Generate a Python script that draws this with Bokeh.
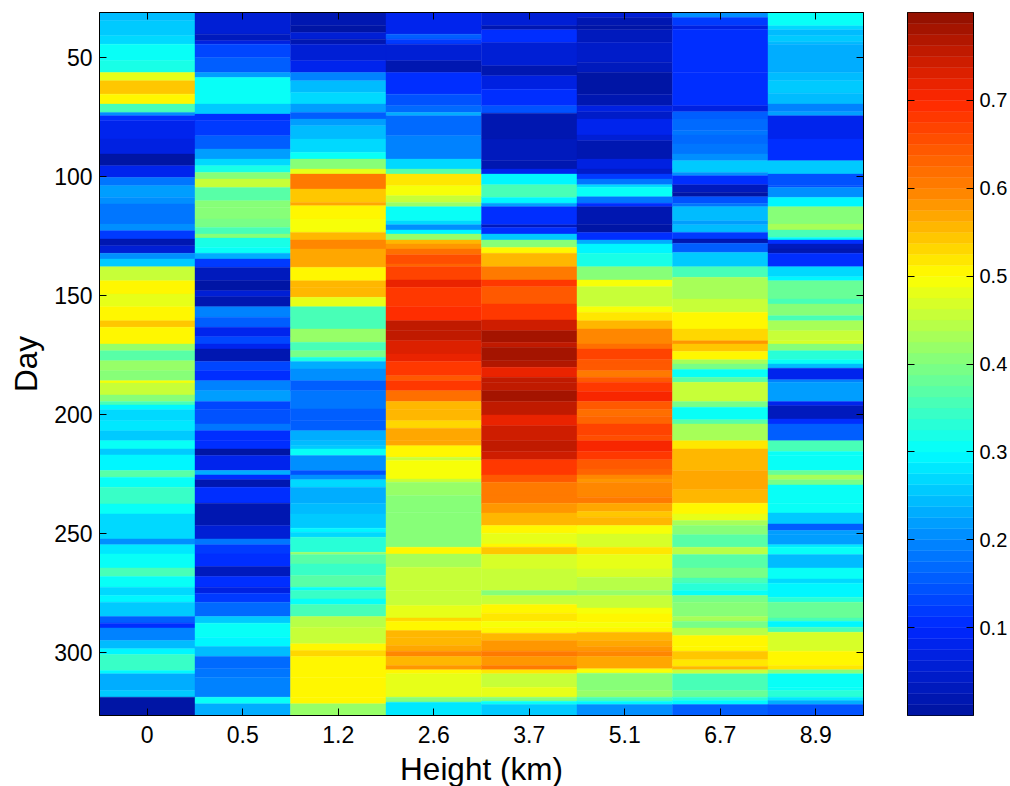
#Heatmap of value by height and day, with a jet colorbar next to it
import numpy as np
from bokeh.embed import file_html
from bokeh.layouts import row
from bokeh.models import CategoricalAxis, ColumnDataSource, FactorRange, FixedTicker, LinearAxis, LinearColorMapper, Range1d
from bokeh.plotting import figure
from bokeh.resources import INLINE
from bokeh.transform import transform

heights = ["0", "0.5", "1.2", "2.6", "3.7", "5.1", "6.7", "8.9"]
day_ticks = [50, 100, 150, 200, 250, 300]
bar_ticks = [0.1, 0.2, 0.3, 0.4, 0.5, 0.6, 0.7]
first_day = 31
last_day = 326.4
low_val = 0
high_val = 0.8

#each column is a run of bands: day where a band ends, and the value of that band
ends_0 = [34.5,40.8,44.3,51.3,56.2,59.7,65.3,69.5,73,74.4,76.5,84.2,90.5,95.4,100.3,103.8,108.7,111.5,119.9,122.7,126.2,129,132.2,134.6,137.8,143.7,149.3,154.6,160.5,163.3,170.3,173.1,177.3,181.5,185.7,186.7,191.7,194.5,195.9,197.9,202.5,206.7,210.9,214.4,216.9,223.5,226.3,230.5,237.5,241.7,252.2,254.6,258.5,264.4,268,272.5,276,278.8,284.8,287.6,289.6,294.9,298.4,300.8,307.5,308.9,315.9,318.7,326.4]
vals_0 = [.24,.25,.27,.30,.32,.48,.54,.50,.35,.2,.11,.085,.065,.01,.085,.18,.22,.2,.18,.2,.12,.02,.05,.2,.26,.46,.5,.48,.51,.54,.5,.42,.37,.42,.40,.49,.45,.40,.35,.29,.27,.28,.26,.30,.26,.295,.37,.30,.34,.30,.27,.21,.28,.31,.36,.30,.27,.29,.26,.16,.11,.19,.24,.29,.34,.29,.23,.26,.01]

ends_1 = [40.1,42.9,44.3,49.9,56.2,58.3,69.5,73.7,76.5,82.8,88.4,92.6,95.4,98.2,101,104.5,110.1,112.9,117.8,121.3,124.1,125.8,129.7,132.2,134.6,138.1,143.7,147.9,150.4,154.6,159.1,163.3,167.2,170.3,172.4,177.7,181.5,185.7,189.9,194.5,197.9,203.9,206.7,210.9,214.4,217.2,223.5,225.3,227.3,230.5,237.2,246.6,252.2,254.6,258.5,263.8,268,272.5,275,278.8,284.8,287.6,293.5,297.4,301.6,306.8,310.3,318.7,321.5,326.4]
vals_1 = [.05,.035,.065,.125,.16,.22,.3,.25,.1,.12,.16,.22,.27,.32,.41,.46,.37,.41,.40,.39,.36,.40,.32,.3,.23,.12,.035,.01,.05,.015,.19,.16,.085,.125,.085,.02,.13,.11,.19,.22,.13,.14,.18,.11,.1,.01,.075,.23,.1,.02,.1,.015,.05,.18,.12,.11,.03,.1,.065,.12,.17,.26,.3,.29,.24,.17,.18,.19,.3,.23]

ends_2 = [36.6,39.4,42.2,44.3,51.3,56.2,59.7,64.6,69.5,73,75.8,78.6,84.2,89.8,92.6,96.8,98.9,105.2,110.8,112.2,117.8,123.4,126.6,130.4,138.1,143.7,146.5,150.7,154.6,164,169.6,173.1,175.9,177.7,180.8,185.7,189.9,197.6,202.5,206.7,210.9,213,214.4,217.2,223.5,225.3,227.3,230.5,237.2,241.7,247.7,249.4,251.5,257.8,258.8,262.7,267.6,272.5,273.9,277.4,279.8,284.8,289.3,296.3,299.1,301.6,310.3,318.7,321.5,326.4]
vals_2 = [.02,.01,.05,.015,.05,.085,.19,.24,.27,.22,.16,.22,.24,.27,.3,.4,.48,.61,.54,.57,.51,.49,.55,.59,.57,.51,.56,.55,.48,.35,.42,.36,.39,.32,.23,.2,.16,.18,.15,.16,.23,.24,.26,.3,.21,.14,.21,.27,.23,.24,.26,.29,.27,.33,.42,.37,.34,.37,.31,.34,.3,.35,.44,.46,.5,.53,.5,.505,.51,.42]

ends_3 = [40.1,42.2,44.3,51.3,56.2,65.3,70.2,73,74.4,82.8,92.6,96.8,98.9,103.8,108,110.8,112.6,118.5,120.2,122.4,124.1,126.6,128.3,130.4,132.8,136.7,137.8,143.4,146.5,154.6,160.5,164.7,168.9,174.5,177.7,183.6,185.7,189.9,194.5,197.9,202.5,205.7,210.9,213,217.9,219.3,227,228.4,234,241,255.7,258.5,264.1,273.9,280.2,285.4,286.8,290.7,293.5,297,299.4,301.6,305.4,307.2,308.9,318.7,320.8,326.4]
vals_3 = [.085,.16,.12,.05,.02,.11,.14,.17,.23,.17,.19,.27,.37,.515,.49,.45,.42,.3,.27,.21,.29,.42,.55,.58,.62,.66,.63,.67,.72,.68,.69,.76,.75,.73,.72,.68,.64,.68,.62,.55,.56,.53,.57,.57,.5,.46,.49,.45,.42,.41,.40,.5,.43,.45,.46,.48,.53,.51,.55,.56,.57,.59,.55,.58,.51,.485,.40,.28]

ends_4 = [36.6,38.3,43.6,53.4,57.6,63.2,70.2,73.3,84.2,93.3,96.8,98.9,103.4,108.7,111.2,112.6,120.2,121.3,124.1,126.6,129.7,132.2,137.8,143.4,146.2,153.5,160.2,164.7,169.6,171.7,177.3,180.1,184.3,186.4,189.9,194.5,200.1,204.6,210.9,215.5,218.9,225.3,228.4,233.7,237.2,241.3,246.6,249.8,254.3,255.7,258.8,264.8,273.9,276,279.8,283.4,286.8,289.3,291.8,294.9,299.4,301.6,305.4,307.2,308.9,314.5,318.7,320.4,321.8,326.4]
vals_4 = [.055,.015,.1,.055,.02,.065,.11,.14,.015,.035,.02,.085,.29,.36,.29,.22,.11,.035,.11,.25,.41,.5,.56,.6,.68,.64,.68,.74,.78,.76,.78,.77,.72,.75,.76,.78,.75,.72,.74,.76,.74,.68,.64,.61,.6,.58,.56,.5,.48,.5,.54,.47,.45,.41,.46,.5,.52,.49,.51,.56,.58,.61,.58,.6,.52,.45,.48,.41,.3,.26]

ends_5 = [33.1,36.6,38.3,43.6,52,56.2,65.3,70.2,72.7,75.8,82.5,84.9,92.6,96.8,98.9,101,103.4,104.5,108.4,111.2,112.6,120.2,123.4,126.6,128.3,132.2,137.8,143.4,146.2,154.6,157,160.5,164,170.3,172.4,176.9,178.3,181.5,184.3,186.4,190.3,194.5,197.9,200.7,203.9,208.8,210.9,215.5,218.9,222.8,225.3,227,228.4,234.7,237.2,240.7,243.1,246.6,250.1,255.7,258.8,264.8,268.3,273.9,276,281.2,283.7,287.2,289.3,291.4,294.9,297.4,299.4,301.6,306.8,308.6,315.9,318.7,320.4,321.8,326.4]
vals_5 = [.055,.02,.01,.03,.045,.035,.01,.015,.065,.045,.075,.05,.015,.065,.045,.12,.18,.27,.3,.18,.11,.02,.01,.1,.23,.29,.32,.41,.49,.45,.49,.52,.56,.59,.62,.67,.64,.64,.6,.64,.68,.7,.64,.62,.63,.67,.65,.7,.68,.64,.63,.59,.58,.59,.61,.57,.54,.55,.49,.47,.52,.48,.47,.44,.42,.45,.49,.51,.49,.5,.55,.57,.58,.59,.57,.49,.40,.42,.35,.29,.2]

ends_6 = [33.1,36.6,38,56.2,70.2,72.7,75.8,80.7,82.5,86.3,90.5,93.3,98.2,99.6,103.4,106.6,108.4,111.2,112.6,118.5,120.2,123.4,126.2,128,131.8,137.8,142.3,151.4,157,164,168.9,170.3,173.4,176.9,178.7,181,184.3,186.4,194.5,196.9,202.1,203.9,210.9,214.4,223.5,231.5,237.2,241.7,244.5,246.6,250.4,255.7,258.8,264.4,268.6,270.8,273.9,276,278.8,284.8,286.8,289.6,292.8,297.4,299.4,303,305.8,307.2,308.9,315.9,318.7,320.1,321.8,326.4]
vals_6 = [.2,.12,.065,.11,.1,.065,.15,.17,.18,.17,.18,.2,.26,.21,.11,.03,.01,.14,.18,.24,.22,.24,.12,.02,.15,.25,.36,.43,.45,.5,.53,.58,.54,.5,.43,.39,.3,.37,.45,.39,.3,.37,.43,.52,.55,.57,.56,.51,.48,.43,.40,.37,.44,.37,.39,.35,.33,.31,.39,.41,.43,.39,.44,.505,.5,.54,.52,.55,.46,.36,.38,.33,.29,.15]

ends_7 = [36.6,38.3,40.8,43.3,44.3,56.2,59.7,64.9,69.5,72.7,74.4,84.2,93.3,98.9,103.8,104.5,108.7,112.6,119.9,122.4,125.5,126.6,128.3,130.4,132.2,137.8,142,143.7,151.4,153.5,158.4,160.5,164.7,168.9,170.3,173.1,176.9,178.7,180.5,185.3,186.4,194.5,196.2,201.8,203.9,210.9,215.5,217.2,223.5,225.3,227.3,229.5,231.2,237.2,241.3,245.9,248.7,250.4,254.6,255.7,258.8,264.4,269,270.8,276.7,278.8,285.4,286.8,289.3,291.4,299.4,305.4,307.2,308.9,314.5,315.9,318.7,320.1,321.8,326.4]
vals_7 = [.3,.27,.24,.25,.24,.225,.24,.26,.24,.19,.22,.085,.1,.26,.14,.14,.2,.29,.41,.43,.35,.29,.11,.035,.015,.11,.27,.29,.38,.35,.41,.36,.43,.46,.47,.41,.33,.3,.24,.085,.19,.22,.085,.03,.1,.15,.35,.31,.3,.38,.43,.39,.3,.31,.3,.25,.16,.22,.22,.28,.31,.24,.3,.27,.29,.33,.38,.35,.29,.36,.47,.5,.52,.41,.3,.31,.33,.28,.23,.14]

columns = [(ends_0, vals_0), (ends_1, vals_1), (ends_2, vals_2), (ends_3, vals_3),
           (ends_4, vals_4), (ends_5, vals_5), (ends_6, vals_6), (ends_7, vals_7)]

#the picture's jet is a bit lifted at both dark ends, so go through its colours
stops = [0, 0.125, 0.25, 0.375, 0.5, 0.625, 0.75, 0.875, 1]
reds = [0x00, 0x00, 0x00, 0x00, 0x80, 0xff, 0xff, 0xff, 0x90]
greens = [0x14, 0x28, 0x88, 0xff, 0xff, 0xff, 0x80, 0x28, 0x10]
blues = [0xa0, 0xff, 0xff, 0xff, 0x80, 0x00, 0x00, 0x00, 0x00]


def jet(n):
    x = (np.arange(n) + 0.5) / n
    r = np.interp(x, stops, reds)
    g = np.interp(x, stops, greens)
    b = np.interp(x, stops, blues)
    return ["#%02x%02x%02x" % (int(a), int(c), int(d)) for a, c, d in zip(r, g, b)]


palette = jet(64)
mapper = LinearColorMapper(palette=palette, low=low_val, high=high_val)

#turn the runs into one table of bars
xs, tops, bottoms, vals = [], [], [], []
for h, (ends, col_vals) in zip(heights, columns):
    start = first_day
    for end, v in zip(ends, col_vals):
        xs.append(h)
        tops.append(start)
        bottoms.append(end)
        vals.append(v)
        start = end
source = ColumnDataSource(dict(x=xs, top=tops, bottom=bottoms, val=vals))

FONT = "Liberation Sans"

p = figure(x_range=FactorRange(factors=heights, range_padding=0), y_range=Range1d(last_day, first_day),
           frame_width=764, frame_height=703, min_border_left=99, min_border_right=20,
           min_border_top=12, min_border_bottom=71, output_backend="svg", toolbar_location=None,
           x_axis_label="Height (km)", y_axis_label="Day")
p.vbar(x="x", top="top", bottom="bottom", width=1, source=source,
       fill_color=transform("val", mapper), line_color=transform("val", mapper), line_width=0.4)
p.grid.visible = False
p.outline_line_color = "black"
p.outline_line_width = 1
p.x_range.factor_padding = 0

p.yaxis.ticker = FixedTicker(ticks=day_ticks)
for ax in [p.xaxis[0], p.yaxis[0]]:
    ax.major_label_text_font = FONT
    ax.major_label_text_font_size = "23px"
    ax.major_label_text_color = "black"
    ax.axis_label_text_font = FONT
    ax.axis_label_text_font_size = "31.5px"
    ax.axis_label_text_font_style = "normal"
    ax.axis_label_text_color = "black"
    ax.major_tick_in = 7
    ax.major_tick_out = 0
    ax.minor_tick_in = 0
    ax.minor_tick_out = 0
    ax.axis_line_color = "black"
    ax.major_tick_line_color = "black"
p.yaxis[0].major_label_standoff = 7
p.yaxis[0].axis_label_standoff = 7
p.xaxis[0].major_label_standoff = 10
p.xaxis[0].axis_label_standoff = 5

#ticks on the other two sides, labels not drawn
top_axis = CategoricalAxis(major_tick_in=7, major_tick_out=0, major_label_text_color=None,
                           major_label_text_font_size="1px", major_label_standoff=0)
right_axis = LinearAxis(ticker=FixedTicker(ticks=day_ticks), major_tick_in=7, major_tick_out=0, minor_tick_in=0,
                        minor_tick_out=0, major_label_text_color=None, major_label_text_font_size="1px",
                        major_label_standoff=0)
p.add_layout(top_axis, "above")
p.add_layout(right_axis, "right")

#colorbar as a second figure, one band per palette colour
levels = np.linspace(low_val, high_val, len(palette) + 1)
bar_source = ColumnDataSource(dict(left=[0] * len(palette), right=[1] * len(palette),
                                   bottom=levels[:-1], top=levels[1:], color=palette))
cb = figure(x_range=Range1d(0, 1), y_range=Range1d(low_val, high_val), frame_width=66, frame_height=703,
            min_border_left=24, min_border_right=35, min_border_top=12, min_border_bottom=71,
            output_backend="svg", toolbar_location=None, y_axis_location="right")
cb.quad(left="left", right="right", bottom="bottom", top="top", fill_color="color", line_color="color",
        line_width=0.4, source=bar_source)
cb.grid.visible = False
cb.xaxis.visible = False
cb.outline_line_color = "black"
cb.outline_line_width = 1
cb.yaxis.ticker = FixedTicker(ticks=bar_ticks)
cb.yaxis.major_label_text_font = FONT
cb.yaxis.major_label_text_font_size = "20px"
cb.yaxis.major_label_text_color = "black"
cb.yaxis.major_tick_in = 7
cb.yaxis.major_tick_out = 0
cb.yaxis.minor_tick_in = 0
cb.yaxis.minor_tick_out = 0
cb.yaxis.major_label_standoff = 6
cb.yaxis.major_tick_line_color = "black"
cb.add_layout(LinearAxis(ticker=FixedTicker(ticks=bar_ticks), major_tick_in=7, major_tick_out=0, minor_tick_in=0,
                         minor_tick_out=0, major_label_text_color=None, major_label_text_font_size="1px",
                         major_label_standoff=0), "left")

page = row(p, cb)
open("out.html", "w").write(file_html(page, INLINE))
